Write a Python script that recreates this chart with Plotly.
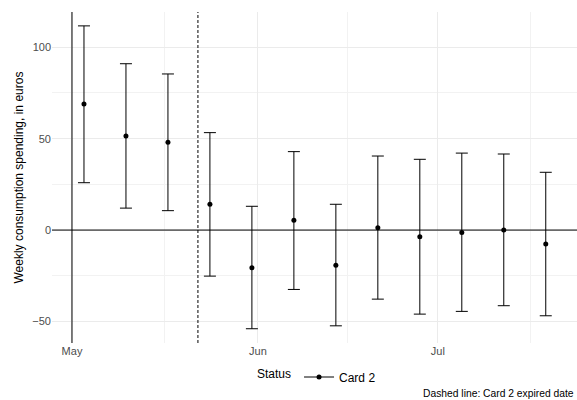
import plotly.graph_objects as go

weeks = ["2021-05-03", "2021-05-10", "2021-05-17", "2021-05-24", "2021-05-31", "2021-06-07",
         "2021-06-14", "2021-06-21", "2021-06-28", "2021-07-05", "2021-07-12", "2021-07-19"]
estimate = [68.9, 51.4, 48.0, 14.1, -20.6, 5.4, -19.2, 1.3, -3.6, -1.3, 0.0, -7.7]
upper = [111.7, 91.0, 85.4, 53.3, 13.0, 42.9, 14.1, 40.5, 38.7, 42.1, 41.6, 31.6]
lower = [25.9, 12.0, 10.6, -25.2, -54.0, -32.5, -52.4, -37.8, -46.0, -44.5, -41.4, -46.9]
expired_date = "2021-05-22"
ref_date = "2021-05-01"
month_ticks = ["2021-05-01", "2021-06-01", "2021-07-01"]
month_labels = ["May", "Jun", "Jul"]
minor_x = ["2021-05-16 12:00", "2021-06-16", "2021-07-16 12:00"]
y_ticks = [-50, 0, 50, 100]
y_minor = [-25, 25, 75]

err_plus = [u - e for u, e in zip(upper, estimate)]
err_minus = [e - l for e, l in zip(estimate, lower)]

fig = go.Figure()
fig.add_trace(go.Scatter(
    x=weeks, y=estimate, mode="markers",
    marker=dict(color="black", size=5),
    error_y=dict(type="data", symmetric=False, array=err_plus, arrayminus=err_minus,
                 color="black", thickness=1, width=6),
    showlegend=False,
))
fig.add_trace(go.Scatter(
    x=[None], y=[None], mode="lines+markers", name="Card 2",
    marker=dict(color="black", size=5), line=dict(color="black", width=1),
))

fig.add_shape(type="line", xref="x", yref="paper", x0=ref_date, x1=ref_date, y0=0, y1=1,
              line=dict(color="black", width=1))
fig.add_shape(type="line", xref="x", yref="paper", x0=expired_date, x1=expired_date, y0=0, y1=1,
              line=dict(color="black", width=1, dash="3px,2px"))
fig.add_shape(type="line", xref="paper", yref="y", x0=0, x1=1, y0=0, y1=0,
              line=dict(color="black", width=1))

fig.update_layout(
    width=577, height=400,
    margin=dict(l=52, r=0, t=12, b=57),
    paper_bgcolor="white", plot_bgcolor="white",
    font=dict(family="Liberation Sans, Arial, sans-serif", color="black", size=11),
    xaxis=dict(
        range=["2021-04-27 16:00", "2021-07-24 05:00"],
        tickvals=month_ticks, ticktext=month_labels,
        showgrid=True, gridcolor="#EBEBEB", gridwidth=1,
        minor=dict(tickvals=minor_x, showgrid=True, gridcolor="#F2F2F2", gridwidth=0.6),
        zeroline=False, showline=False, ticks="", automargin=False,
        tickfont=dict(color="#4D4D4D", size=11),
    ),
    yaxis=dict(
        range=[-61.8, 119.3],
        tickvals=y_ticks, ticktext=[str(v).replace("-", "\u2212") for v in y_ticks],
        showgrid=True, gridcolor="#EBEBEB", gridwidth=1,
        minor=dict(tickvals=y_minor, showgrid=True, gridcolor="#F2F2F2", gridwidth=0.6),
        zeroline=False, showline=False, ticks="", automargin=False,
        tickfont=dict(color="#4D4D4D", size=11),
    ),
    legend=dict(
        orientation="h", x=318 / 577, xanchor="center", xref="container",
        y=1 - 377 / 400, yanchor="middle", yref="container",
        title=dict(text="Status", font=dict(size=12)), font=dict(size=12),
        itemwidth=30,
    ),
    annotations=[
        dict(text="Dashed line: Card 2 expired date", xref="paper", yref="paper",
             x=1, y=-0.13, xanchor="right", yanchor="top", showarrow=False,
             xshift=-1, font=dict(size=10.3)),
        dict(text="Weekly consumption spending, in euros", xref="paper", yref="paper",
             x=0, y=0.5, xanchor="center", yanchor="middle", showarrow=False,
             xshift=-34, textangle=-90, font=dict(size=12)),
    ],
)

fig.write_html("out.html", config={"displayModeBar": False},
               post_script="document.body.style.margin='0';")
